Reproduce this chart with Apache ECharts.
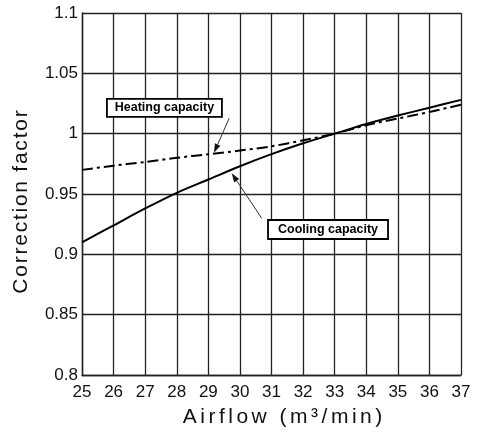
<!DOCTYPE html>
<html><head><meta charset="utf-8">
<script src="https://cdn.jsdelivr.net/npm/echarts@6/dist/echarts.min.js"></script>
<style>html,body{margin:0;padding:0;background:#fff}#c{width:482px;height:436px}</style>
</head><body><div id="c"></div>
<script>
var airflow = [25, 26, 27, 28, 29, 30, 31, 32, 33, 34, 35, 36, 37];
var cooling = [0.910, 0.924, 0.938, 0.951, 0.962, 0.973, 0.983, 0.992, 1.000, 1.008, 1.015, 1.0215, 1.028];
var heating = [0.970, 0.9735, 0.9765, 0.980, 0.983, 0.986, 0.9895, 0.9945, 1.000, 1.007, 1.0125, 1.018, 1.024];
var yTickLabels = ['0.8', '0.85', '0.9', '0.95', '1', '1.05', '1.1'];
var xTickLabels = ['25','26','27','28','29','30','31','32','33','34','35','36','37'];
var heatingLabel = 'Heating capacity';
var coolingLabel = 'Cooling capacity';
// annotation anchors in data coordinates: [box center, arrow tail, arrow head]
var heatingNote = [[27.61, 1.0213], [29.66, 1.0127], [29.18, 0.9842]];
var coolingNote = [[32.79, 0.9206], [30.69, 0.9299], [29.74, 0.9672]];

var FONT = 'Liberation Sans, Arial, Helvetica, sans-serif';
function spaced(s, sp){ return s.split('').join(sp); }

var chart = echarts.init(document.getElementById('c'), null, {renderer: 'canvas'});
var gridLine = {show: true, lineStyle: {color: '#222', width: 1.3}};
chart.setOption({
  animation: false,
  grid: {left: 82, top: 13, right: 21, bottom: 61},
  xAxis: {
    type: 'value', min: 25, max: 37, interval: 1,
    axisLine: {show: true, lineStyle: {color: '#222', width: 1.4}},
    axisTick: {show: false},
    splitLine: gridLine,
    axisLabel: {color: '#111', fontSize: 17, fontFamily: FONT, margin: 9,
      formatter: function(v){ var i = airflow.indexOf(Math.round(v)); return i >= 0 ? xTickLabels[i] : ''; }},
    name: spaced('Airflow (m³/min)', '\u2006'),
    nameLocation: 'middle', nameGap: 32,
    nameTextStyle: {color: '#111', fontSize: 21, fontFamily: FONT, padding: [0, 0, 0, 22]}
  },
  yAxis: {
    type: 'value', min: 0.8, max: 1.1, interval: 0.05,
    axisLine: {show: true, lineStyle: {color: '#222', width: 1.4}},
    axisTick: {show: false},
    splitLine: gridLine,
    axisLabel: {color: '#111', fontSize: 17, fontFamily: FONT, margin: 4,
      formatter: function(v){ var i = Math.round((v - 0.8) / 0.05); return yTickLabels[i] || ''; }},
    name: spaced('Correction factor', '\u200A'),
    nameLocation: 'middle', nameGap: 50, nameRotate: 90,
    nameTextStyle: {color: '#111', fontSize: 21, fontFamily: FONT, padding: [0, 16, 0, 0]}
  },
  series: [
    {type: 'line', name: 'Cooling', data: airflow.map(function(x, i){ return [x, cooling[i]]; }),
     smooth: 0.3, symbol: 'none', lineStyle: {color: '#000', width: 2}},
    {type: 'line', name: 'Heating', data: airflow.map(function(x, i){ return [x, heating[i]]; }),
     smooth: 0.3, symbol: 'none', lineStyle: {color: '#000', width: 2, type: [11, 4, 3, 4]}}
  ]
});

function P(pt){ return chart.convertToPixel({gridIndex: 0}, pt); }
function note(label, pts, w, h){
  var c = P(pts[0]), t = P(pts[1]), hd = P(pts[2]);
  var ang = Math.atan2(hd[1] - t[1], hd[0] - t[0]);
  var L = 9, W = 3;
  var bx = hd[0] - L * Math.cos(ang), by = hd[1] - L * Math.sin(ang);
  var px = -Math.sin(ang) * W, py = Math.cos(ang) * W;
  return [
    {type: 'line', shape: {x1: t[0], y1: t[1], x2: bx, y2: by}, style: {stroke: '#333', lineWidth: 1}, z: 10},
    {type: 'polygon', shape: {points: [[hd[0], hd[1]], [bx + px, by + py], [bx - px, by - py]]}, style: {fill: '#111'}, z: 10},
    {type: 'rect', shape: {x: c[0] - w / 2, y: c[1] - h / 2, width: w, height: h}, style: {fill: '#fff', stroke: '#000', lineWidth: 1.8}, z: 11},
    {type: 'text', x: c[0], y: c[1], style: {text: label, fill: '#000', font: 'bold 12.5px ' + FONT, align: 'center', verticalAlign: 'middle'}, z: 12}
  ];
}
chart.setOption({graphic: {elements: note(heatingLabel, heatingNote, 115, 18).concat(note(coolingLabel, coolingNote, 120, 19))}});
</script></body></html>
